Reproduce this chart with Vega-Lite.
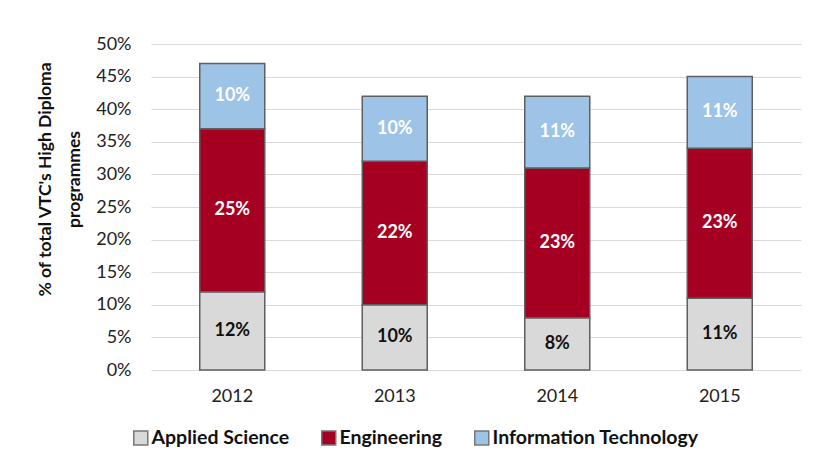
{
  "$schema": "https://vega.github.io/schema/vega-lite/v6.json",
  "width": 650,
  "height": 326,
  "autosize": {"type": "none"},
  "padding": {"left": 151, "top": 44, "right": 15, "bottom": 87},
  "background": "white",
  "config": {
    "view": {"stroke": null},
    "font": "Lato",
    "text": {"font": "Lato"}
  },
  "data": {
    "values": [
      {"year": "2012", "category": "Applied Science", "value": 0.12},
      {"year": "2012", "category": "Engineering", "value": 0.25},
      {"year": "2012", "category": "Information Technology", "value": 0.10},
      {"year": "2013", "category": "Applied Science", "value": 0.10},
      {"year": "2013", "category": "Engineering", "value": 0.22},
      {"year": "2013", "category": "Information Technology", "value": 0.10},
      {"year": "2014", "category": "Applied Science", "value": 0.08},
      {"year": "2014", "category": "Engineering", "value": 0.23},
      {"year": "2014", "category": "Information Technology", "value": 0.11},
      {"year": "2015", "category": "Applied Science", "value": 0.11},
      {"year": "2015", "category": "Engineering", "value": 0.23},
      {"year": "2015", "category": "Information Technology", "value": 0.11}
    ]
  },
  "encoding": {
    "x": {
      "field": "year",
      "type": "nominal",
      "scale": {"paddingInner": 0.6, "paddingOuter": 0.3},
      "axis": {
        "title": null,
        "labelAngle": 0,
        "labelFont": "Lato",
        "labelFontSize": 18,
        "labelColor": "#222222",
        "labelPadding": 17,
        "ticks": false,
        "domain": false
      }
    },
    "y": {
      "field": "value",
      "type": "quantitative",
      "stack": "zero",
      "scale": {"domain": [0, 0.5]},
      "axis": {
        "format": ".0%",
        "values": [0, 0.05, 0.1, 0.15, 0.2, 0.25, 0.3, 0.35, 0.4, 0.45, 0.5],
        "title": ["% of total VTC's High Diploma", "programmes"],
        "titleFont": "Lato",
        "titleFontSize": 17.5,
        "titleFontWeight": "bold",
        "titleColor": "#111111",
        "titleLineHeight": 29,
        "titleAngle": -90,
        "titleAlign": "center",
        "titleBaseline": "middle",
        "titleX": -106,
        "titleY": 135,
        "labelFont": "Lato",
        "labelFontSize": 18,
        "labelColor": "#222222",
        "labelPadding": 20,
        "ticks": false,
        "domain": false,
        "grid": true,
        "gridColor": "#D9D9D9",
        "gridWidth": 1.2
      }
    }
  },
  "layer": [
    {
      "mark": {"type": "bar", "stroke": "#5f5f5f", "strokeWidth": 1.5},
      "encoding": {
        "color": {
          "field": "category",
          "type": "nominal",
          "scale": {
            "domain": ["Applied Science", "Engineering", "Information Technology"],
            "range": ["#D9D9D9", "#A50021", "#9DC3E6"]
          },
          "legend": {
            "title": null,
            "orient": "none",
            "direction": "horizontal",
            "legendX": -20,
            "legendY": 384,
            "symbolType": "square",
            "symbolSize": 196,
            "symbolStrokeColor": "#777777",
            "symbolStrokeWidth": 1.5,
            "labelFont": "Lato",
            "labelFontSize": 19.5,
            "labelFontWeight": "bold",
            "labelColor": "#111111",
            "labelOffset": 1,
            "columnPadding": 28,
            "labelLimit": 300
          }
        },
        "order": {"field": "category", "type": "nominal", "sort": "ascending"}
      }
    },
    {
      "mark": {"type": "text", "font": "Lato", "fontSize": 18, "fontWeight": "bold", "baseline": "middle"},
      "encoding": {
        "y": {"field": "value", "type": "quantitative", "stack": "zero", "bandPosition": 0.5},
        "text": {"field": "value", "type": "quantitative", "format": ".0%"},
        "detail": {"field": "category", "type": "nominal"},
        "order": {"field": "category", "type": "nominal", "sort": "ascending"},
        "color": {
          "condition": {"test": "datum.category === 'Applied Science'", "value": "#111111"},
          "value": "white"
        }
      }
    }
  ]
}
